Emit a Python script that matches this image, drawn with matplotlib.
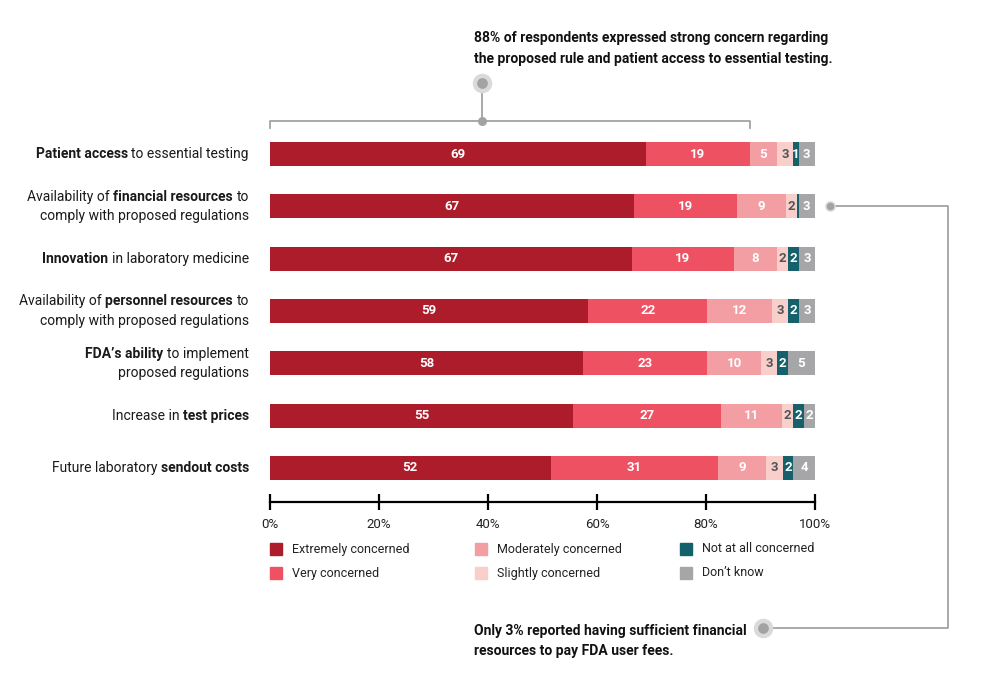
import matplotlib
matplotlib.use('Agg')
import matplotlib.pyplot as plt
import numpy as np

plt.rcParams['font.family'] = ['Roboto', 'DejaVu Sans']

# data
categories = [
    [[('Patient access', True), ('to essential testing', False)]],
    [[('Availability of', False), ('financial resources', True), ('to', False)],
     [('comply with proposed regulations', False)]],
    [[('Innovation', True), ('in laboratory medicine', False)]],
    [[('Availability of', False), ('personnel resources', True), ('to', False)],
     [('comply with proposed regulations', False)]],
    [[("FDA\u2019s ability", True), ('to implement', False)],
     [('proposed regulations', False)]],
    [[('Increase in', False), ('test prices', True)]],
    [[('Future laboratory', False), ('sendout costs', True)]],
]
series = ['Extremely concerned', 'Very concerned', 'Moderately concerned',
          'Slightly concerned', 'Not at all concerned', "Don\u2019t know"]
extremely = [69, 67, 67, 59, 58, 55, 52]
very = [19, 19, 19, 22, 23, 27, 31]
moderately = [5, 9, 8, 12, 10, 11, 9]
slightly = [3, 2, 2, 3, 3, 2, 3]
not_at_all = [1, 0.4, 2, 2, 2, 2, 2]
dont_know = [3, 3, 3, 3, 5, 2, 4]
ticks = [0, 20, 40, 60, 80, 100]

colors = ['#AC1C2A', '#EE5162', '#F39EA3', '#F9CFCB', '#14616C', '#A6A6A8']
label_colors = ['white', 'white', 'white', '#555555', 'white', 'white']

W, H = 982, 676
fig = plt.figure(figsize=(W / 100, H / 100), dpi=100)

def fx(x):
    return x / W

def fy(y):
    return 1 - y / H

# main axes: x 270..815 px, y 120..502 px
ax = fig.add_axes([fx(270), fy(502), (815 - 270) / W, (502 - 120) / H])
ax.set_xlim(0, 100)
ax.set_ylim(6.65, -0.65)
ax.patch.set_alpha(0)

vals = np.array([extremely, very, moderately, slightly, not_at_all, dont_know], dtype=float)
vals = vals / vals.sum(axis=0) * 100
left = np.zeros(len(categories))
raw = [extremely, very, moderately, slightly, not_at_all, dont_know]
for k in range(len(series)):
    ax.barh(range(len(categories)), vals[k], left=left, height=0.46,
            color=colors[k], label=series[k])
    for i in range(len(categories)):
        if raw[k][i] >= 1:
            ax.text(left[i] + vals[k][i] / 2, i, '%d' % raw[k][i], ha='center', va='center',
                    color=label_colors[k], fontsize=9.5, fontweight='bold')
    left += vals[k]

for s in ['top', 'right', 'left']:
    ax.spines[s].set_visible(False)
ax.spines['bottom'].set_linewidth(1.6)
ax.set_yticks([])
ax.set_xticks(ticks)
ax.set_xticklabels(['%d%%' % t for t in ticks], fontsize=9.5, color='#222222')
ax.tick_params(axis='x', direction='inout', length=11, width=1.6, pad=6)

# overlay in pixel coordinates
ov = fig.add_axes([0, 0, 1, 1], zorder=-1)
ov.set_xlim(0, W)
ov.set_ylim(H, 0)
ov.axis('off')

# category labels with mixed weights, right aligned at x=249
renderer = fig.canvas.get_renderer()
sp = ov.text(0, 0, 'x x', fontsize=10)
sp2 = ov.text(0, 0, 'xx', fontsize=10)
space_w = sp.get_window_extent(renderer).width - sp2.get_window_extent(renderer).width
sp.remove()
sp2.remove()

row_px = [154 + i * 52.33 for i in range(len(categories))]
for i, lines in enumerate(categories):
    n = len(lines)
    for j, pieces in enumerate(lines):
        yc = row_px[i] + (j - (n - 1) / 2) * 19.5 + 4
        arts = []
        for txt, bold in pieces:
            arts.append(ov.text(0, yc, txt, fontsize=10, va='baseline', ha='left',
                                color='#1a1a1a', fontweight='bold' if bold else 'normal'))
        widths = [a.get_window_extent(renderer).width for a in arts]
        total = sum(widths) + space_w * (len(arts) - 1)
        x = 249 - total
        for a, w in zip(arts, widths):
            a.set_x(x)
            x += w + space_w

# legend
leg_x = [270, 475, 680]
leg_y = [549, 573]
for k in range(len(series)):
    cx = leg_x[k // 2]
    cy = leg_y[k % 2]
    ov.add_patch(plt.Rectangle((cx, cy - 6), 12, 12, color=colors[k]))
    ov.text(cx + 22, cy, series[k], fontsize=9, va='center', ha='left', color='#222222')

gray = '#A3A3A3'
# top bracket
ov.plot([270, 270, 750, 750], [128, 121, 121, 128], color=gray, lw=1.3)
ov.plot([482, 482], [121, 84], color=gray, lw=1.3)
ov.scatter([482], [121], s=30, color=gray, zorder=3)
ov.scatter([482], [83], s=170, color='#DADADA', zorder=3)
ov.scatter([482], [83], s=45, color=gray, zorder=4)
ov.text(474, 38, '88% of respondents expressed strong concern regarding', fontsize=10,
        fontweight='bold', va='center', ha='left', color='#111111')
ov.text(474, 59, 'the proposed rule and patient access to essential testing.', fontsize=10,
        fontweight='bold', va='center', ha='left', color='#111111')

# right connector
ov.plot([830, 948, 948, 763], [206, 206, 628, 628], color=gray, lw=1.3)
ov.scatter([830], [206], s=45, color='#DADADA', zorder=3)
ov.scatter([830], [206], s=20, color=gray, zorder=4)
ov.scatter([763], [628], s=170, color='#DADADA', zorder=3)
ov.scatter([763], [628], s=45, color=gray, zorder=4)
ov.text(474, 631, 'Only 3% reported having sufficient financial', fontsize=10,
        fontweight='bold', va='center', ha='left', color='#111111')
ov.text(474, 651, 'resources to pay FDA user fees.', fontsize=10,
        fontweight='bold', va='center', ha='left', color='#111111')

fig.savefig('out.png', dpi=100)
